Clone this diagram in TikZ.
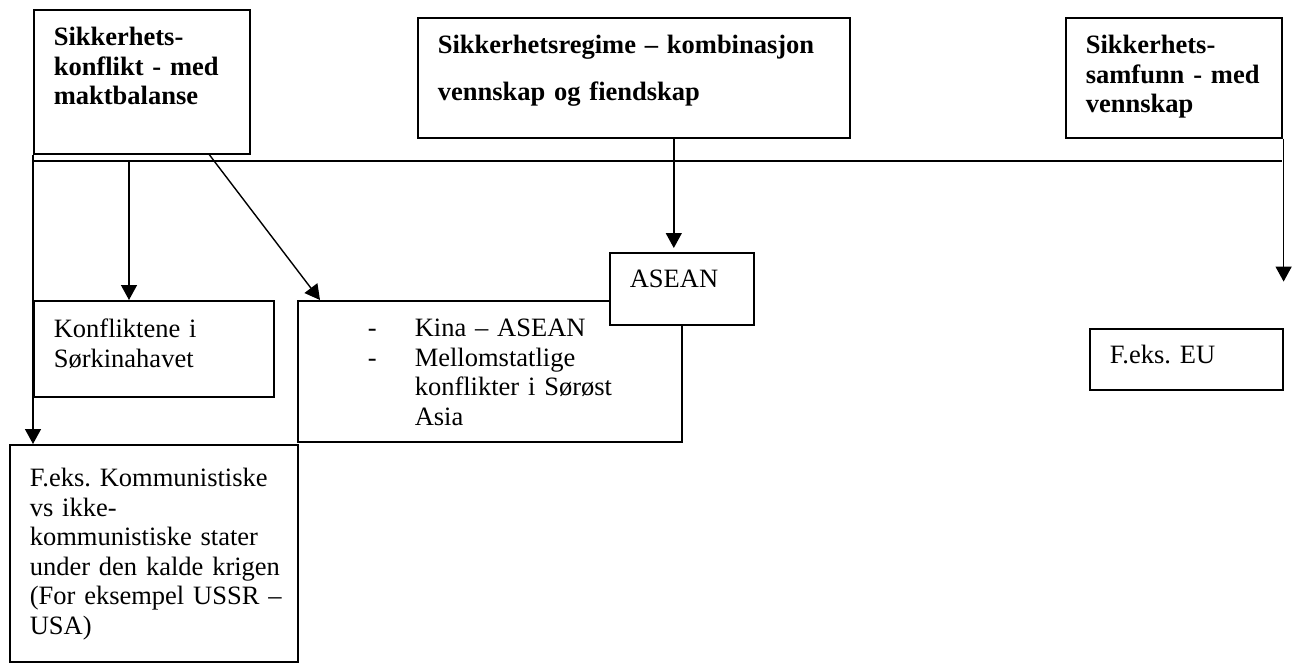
\documentclass[tikz,border=0pt]{standalone}
\usepackage{fontspec}
\setmainfont{Liberation Serif}[WordSpace=0.8]
\usetikzlibrary{arrows.meta,calc}
\tikzset {>={Triangle[length=15pt,width=16pt]}}
\tikzset{
  boks/.style={draw,line width=1.6pt,fill=white,anchor=north west,inner ysep=0pt,inner xsep=20pt,align=left,
    font=\fontsize{26.5}{29.5}\selectfont},
  tykk/.style={boks,font=\fontsize{26.5}{29.5}\selectfont\bfseries},
  linje/.style={line width=1.4pt}
}
\hyphenpenalty=10000
\exhyphenpenalty=10000

\begin{document}
\begin{tikzpicture}[x=1pt,y=-1pt]
\useasboundingbox (0,0) rectangle (1295,662);
% de tre typene
\node[tykk,text width=176pt,text height=36pt,text depth=108pt] (konflikt) at (33,9) {Sikkerhets-\\konflikt~-~med\\maktbalanse};
\node[tykk,text width=392pt,text height=36pt,text depth=84pt,font=\fontsize{26.5}{47}\selectfont\bfseries] (regime) at (417,17) {Sikkerhetsregime~–~kombinasjon\\vennskap~og~fiendskap};
\node[tykk,text width=176pt,text height=36pt,text depth=84pt] (samfunn) at (1065,17) {Sikkerhets-\\samfunn~-~med\\vennskap};
% eksempler
\node[boks,text width=200pt,text height=37pt,text depth=59pt] (sorkina) at (33,300) {Konfliktene~i\\Sørkinahavet};
\node[boks,inner xsep=40pt,text width=304pt,text height=36pt,text depth=105pt] (kina) at (297,300) {\hspace*{30pt}\makebox[47pt][l]{-}Kina~–~ASEAN\\\hspace*{30pt}\makebox[47pt][l]{-}Mellomstatlige\\\hspace*{77pt}konflikter~i~Sørøst\\\hspace*{77pt}Asia};
\node[boks,text width=104pt,text height=35pt,text depth=37pt] (asean) at (609,252) {ASEAN};
\node[boks,text width=153pt,text height=35pt,text depth=26pt] (eu) at (1089,328) {F.eks.~EU};
\node[boks,text width=248pt,text height=42pt,text depth=175pt] (kommun) at (9,444) {F.eks.~Kommunistiske\\vs~ikke-\\kommunistiske~stater\\under~den~kalde~krigen\\(For~eksempel~USSR~–\\USA)};
% linjer og piler
\coordinate (bar w) at (33,161);
\coordinate (bar e) at (1282,161);
\coordinate (bar k) at (129,161);
\coordinate (eu pil) at ($(samfunn.south east)+(1,143)$);
\draw[linje] (bar w) -- (bar e);
\draw[linje,->] (konflikt.south west) -- (konflikt.south west |- kommun.north);
\draw[linje,->] (bar k) -- (bar k |- sorkina.north);
\draw[linje,->] ($(konflikt.south west)!.81!(konflikt.south east)$) -- ($(kina.north west)+(23,0)$);
\draw[linje,->] ([xshift=40pt]regime.south) -- ([xshift=40pt,yshift=4pt]regime.south |- asean.north);
\draw[linje,->] ([xshift=1pt]samfunn.south east) -- (eu pil);
\end{tikzpicture}
\end{document}
